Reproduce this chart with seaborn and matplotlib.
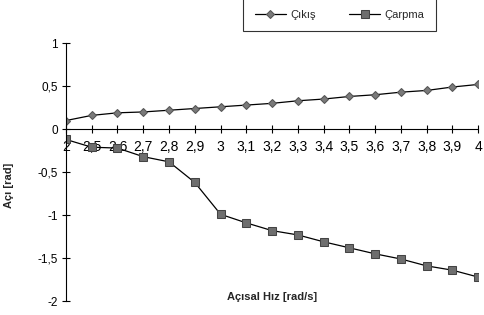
import pandas as pd
import seaborn as sns
import matplotlib.pyplot as plt

# angular speed categories (rad/s) and the two measured angles (rad)
hiz = ["2", "2,5", "2,6", "2,7", "2,8", "2,9", "3", "3,1", "3,2", "3,3",
       "3,4", "3,5", "3,6", "3,7", "3,8", "3,9", "4"]
cikis = [0.10, 0.16, 0.19, 0.20, 0.22, 0.24, 0.26, 0.28, 0.30, 0.33,
         0.35, 0.38, 0.40, 0.43, 0.45, 0.49, 0.52]
carpma = [-0.12, -0.21, -0.22, -0.32, -0.38, -0.62, -0.99, -1.09, -1.18, -1.23,
          -1.31, -1.38, -1.45, -1.51, -1.59, -1.64, -1.72]

df = pd.DataFrame({"pos": range(len(hiz)), "Çıkış": cikis, "Çarpma": carpma})

sns.set_style("white")
plt.rcParams["font.family"] = ["Liberation Sans", "DejaVu Sans"]

fig = plt.figure(figsize=(4.85, 3.15), dpi=100)
ax = fig.add_axes([0.136, 0.044, 0.85, 0.819])

sns.lineplot(data=df, x="pos", y="Çıkış", ax=ax, color="black", lw=0.9,
             marker="D", markersize=4.5, markerfacecolor="#7a7a7a",
             markeredgecolor="#555555", label="Çıkış")
sns.lineplot(data=df, x="pos", y="Çarpma", ax=ax, color="black", lw=0.9,
             marker="s", markersize=6, markerfacecolor="#6e6e6e",
             markeredgecolor="#444444", label="Çarpma")

ax.set_xlim(0, len(hiz) - 1)
ax.set_ylim(-2, 1)
ax.set_yticks([-2, -1.5, -1, -0.5, 0, 0.5, 1])
ax.set_yticklabels(["-2", "-1,5", "-1", "-0,5", "0", "0,5", "1"], fontsize=8.5)
ax.set_xticks(df["pos"])
ax.set_xticklabels(hiz, fontsize=8.5)

for s in ["top", "right"]:
    ax.spines[s].set_visible(False)
ax.spines["bottom"].set_position(("data", 0))
for s in ["left", "bottom"]:
    ax.spines[s].set_linewidth(0.8)
    ax.spines[s].set_color("black")
ax.tick_params(axis="both", direction="inout", length=6, width=0.8,
               colors="black", bottom=True, left=True, pad=3)
ax.tick_params(axis="x", pad=5)

ax.set_xlabel("Açısal Hız [rad/s]", fontsize=8, fontweight="bold")
ax.xaxis.set_label_coords(0.5, 0.035)
ax.set_ylabel("Açı [rad]", fontsize=8, fontweight="bold")
ax.yaxis.set_label_coords(-0.125, 0.45)

leg = ax.legend(loc="upper center", bbox_to_anchor=(0.7, 1.005),
                bbox_transform=fig.transFigure, ncol=2, fontsize=8,
                frameon=True, fancybox=False, edgecolor="black",
                handlelength=2.8, handletextpad=0.4, columnspacing=3,
                borderpad=1.0, borderaxespad=0)
leg.get_frame().set_linewidth(0.8)

fig.savefig("out.png", dpi=100)
